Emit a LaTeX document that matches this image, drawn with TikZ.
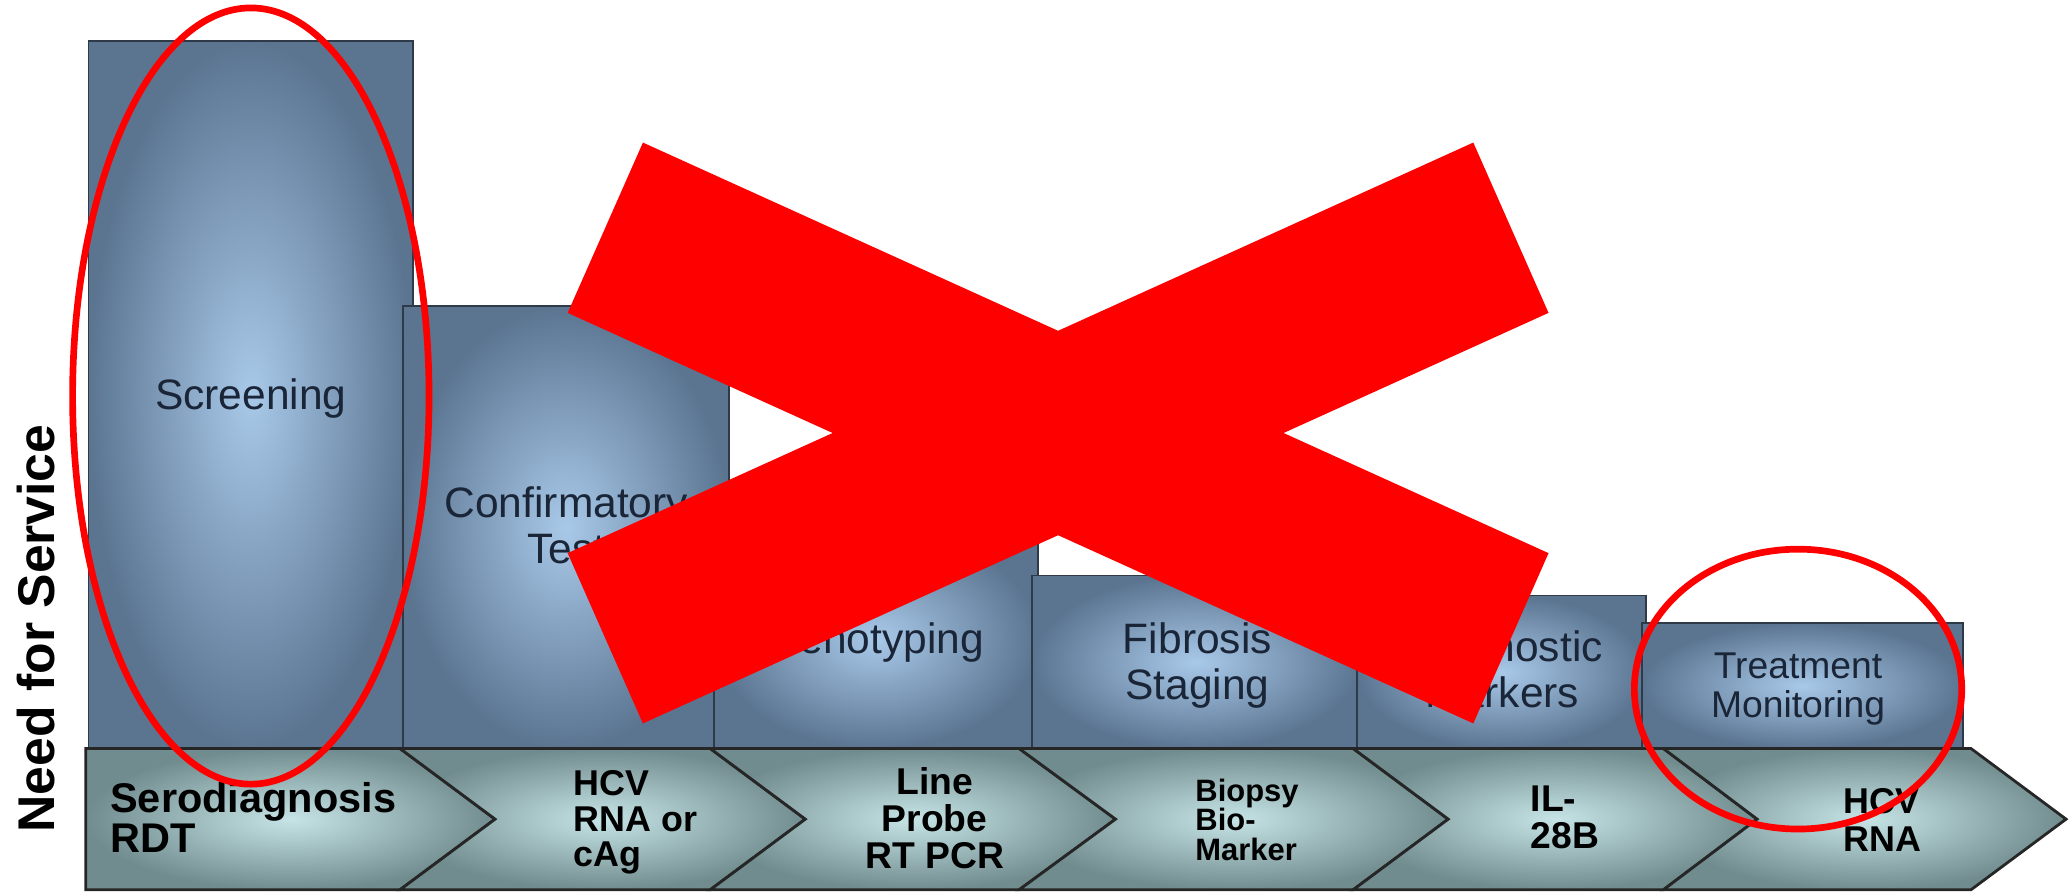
\documentclass[tikz,border=0pt]{standalone}
\usepackage{fontspec}
\setmainfont{Liberation Sans}
\usepackage{tikz}

\definecolor{barlight}{HTML}{A9C9E9}
\definecolor{bardark}{HTML}{5B7591}
\definecolor{chevlight}{HTML}{C6E4E6}
\definecolor{chevdark}{HTML}{718C8E}
\definecolor{barline}{HTML}{2F3A48}
\definecolor{barink}{HTML}{1A2638}

\begin{document}
\begin{tikzpicture}[x=0.0132cm,y=-0.0132cm,
  barbox/.style={draw=barline, line width=0.5pt, inner color=barlight, outer color=bardark},
  chevbox/.style={draw=black!85, line width=0.8pt, line join=miter, inner color=chevlight, outer color=chevdark},
  barlabel/.style={text=barink, align=center, inner sep=0pt, font=\fontsize{12.1}{12.9}\selectfont},
  chevlabel/.style={anchor=west, align=left, inner sep=0pt},
  redring/.style={draw=red, line width=1.9pt},
  redcross/.style={fill=red}]

\useasboundingbox (0,0) rectangle (1568,676);

\path[barbox] (67,31) rectangle (313,567);
\path[barbox] (305,232) rectangle (552,567);
\path[barbox] (541,400) rectangle (786,567);
\path[barbox] (782,436) rectangle (1030,567);
\path[barbox] (1028,451) rectangle (1247,567);
\path[barbox] (1244,472) rectangle (1487,567);

\node[barlabel] (screening) at (190,301.5) {Screening};
\node[barlabel] (confirm) at (429,398) {Confirmatory\\Test};
\node[barlabel] (genotype) at (663,486.5) {Genotyping};
\node[barlabel] (fibrosis) at (907,504) {Fibrosis\\Staging};
\node[barlabel] (prognostic) at (1138,507) {Prognostic\\Markers};
\node[barlabel, font=\fontsize{10.6}{10.9}\selectfont] (monitoring) at (1362,522) {Treatment\\Monitoring};

\path[chevbox] (65,567) -- (303,567) -- (375,620.5) -- (303,674) -- (65,674) -- cycle;
\path[chevbox] (303,567) -- (538,567) -- (610,620.5) -- (538,674) -- (303,674) -- (375,620.5) -- cycle;
\path[chevbox] (538,567) -- (772,567) -- (845,620.5) -- (772,674) -- (538,674) -- (610,620.5) -- cycle;
\path[chevbox] (772,567) -- (1025,567) -- (1097,620.5) -- (1025,674) -- (772,674) -- (845,620.5) -- cycle;
\path[chevbox] (1025,567) -- (1260,567) -- (1331,620.5) -- (1260,674) -- (1025,674) -- (1097,620.5) -- cycle;
\path[chevbox] (1260,567) -- (1493,567) -- (1565,620.5) -- (1493,674) -- (1260,674) -- (1331,620.5) -- cycle;

\node[chevlabel, font=\bfseries\fontsize{11.8}{11.3}\selectfont] (sero) at (83,619) {Serodiagnosis\\RDT};
\node[chevlabel, font=\bfseries\fontsize{10.2}{10.1}\selectfont] (rnacag) at (434,623) {HCV\\RNA or\\cAg};
\node[align=center, inner sep=0pt, font=\bfseries\fontsize{10.6}{10.5}\selectfont] (lineprobe) at (708,620) {Line\\Probe\\RT PCR};
\node[chevlabel, font=\bfseries\fontsize{8.8}{8.3}\selectfont] (biopsy) at (905,621) {Biopsy\\Bio-\\Marker};
\node[chevlabel, font=\bfseries\fontsize{10.6}{10.5}\selectfont] (il28b) at (1159,619) {IL-\\28B};
\node[chevlabel, font=\bfseries\fontsize{10.2}{10.9}\selectfont] (rnamon) at (1396,621) {HCV\\RNA};

\node[rotate=90, inner sep=0pt, font=\bfseries\fontsize{14.7}{16}\selectfont] (need) at (27,476) {Need for Service};

\draw[redring] (190,300) ellipse [x radius=135, y radius=294];
\draw[redring] (1362,522) ellipse [x radius=124, y radius=106];

\fill[redcross] (487,108) -- (1173,419) -- (1116,548) -- (430,237) -- cycle;
\fill[redcross] (1116,108) -- (430,419) -- (487,548) -- (1173,237) -- cycle;

\end{tikzpicture}
\end{document}
